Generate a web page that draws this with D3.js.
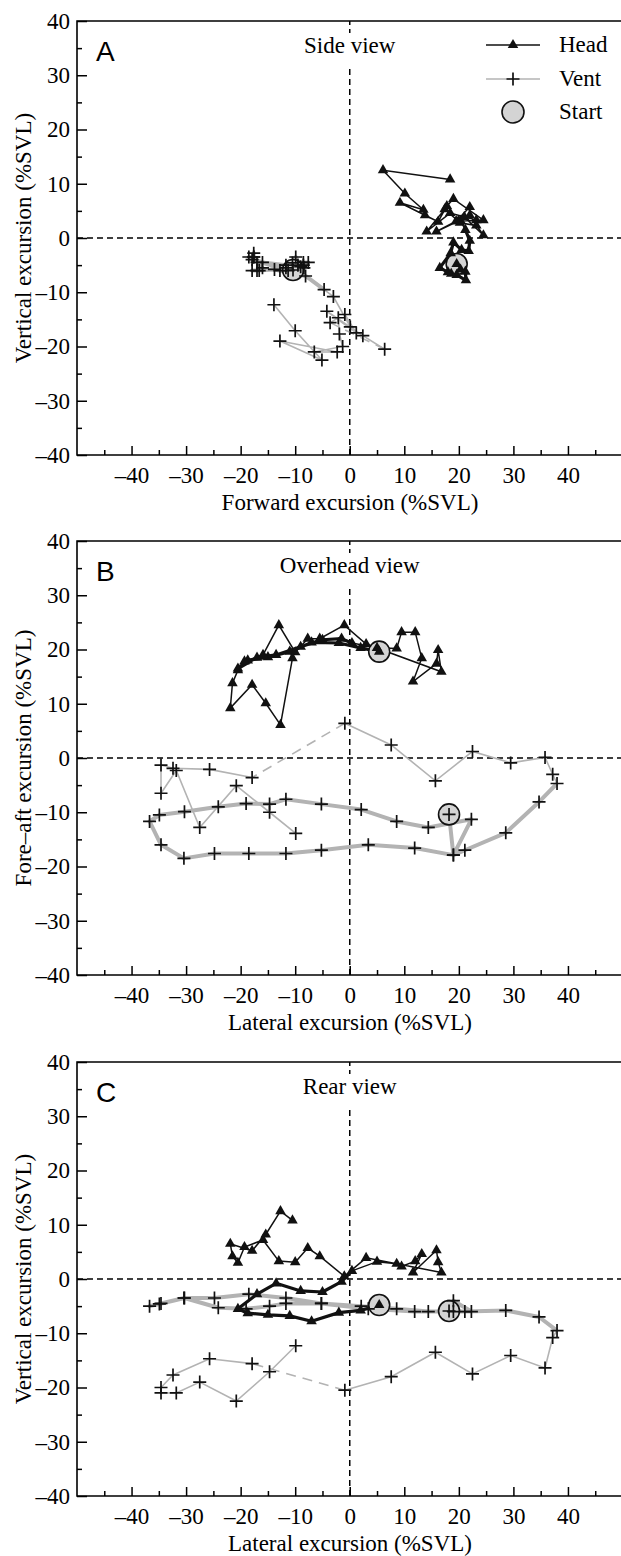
<!DOCTYPE html>
<html><head><meta charset="utf-8">
<script src="https://cdn.jsdelivr.net/npm/d3@7"></script>
<style>body{margin:0;background:#fff}</style>
</head><body><svg id="c" width="621" height="1556"></svg>
<script>
// ---------- data (3D trajectories, %SVL) ----------
// Head: lateral, fore-aft, vertical
const headLateral = [5.4,2,-2,-7,-11,-15,-18.7,-20.5,-17,-13.5,-9,-5,-1.5,0.4,
  5,8.6,9.5,12,13.2,11.6,15.9,16.2,16.8,3,-1,-5.5,-7.7,-10,-13,-15.9,-19.3,-20.5,-21.5,-21.9,-17.9,-15.4,-12.7,-10.5];
const headForeAft = [19.6,20.3,21.2,21.3,19.6,18.6,18,16.5,18.5,19,20.5,21.8,22,21.2,
  20.3,20.2,23.2,23.2,18.4,14.1,17.4,19.9,15.9,21,24.5,22,22,19.5,24.5,19,17.8,16.2,13.8,9.2,13.5,10.1,6.1,18.4];
const headVertical = [-4.8,-5.8,-6.2,-7.8,-6.8,-6.6,-6.3,-5.5,-2.8,-0.8,-2.2,-2.4,-0.5,1.5,
  3.2,2.8,2.3,3.3,4.6,1.2,5.3,3.1,1.2,3.9,0.5,4.2,5.7,3.1,3.3,7.2,5.9,3,4.2,6.5,5.2,8.2,12.5,10.8];
const headThickEnd = 13;           // points 0..13 drawn with the thick line

// Vent: lateral, fore-aft, vertical
const ventLateral = [18.2,19,22.3,14.4,8.6,2.1,-5.2,-11.7,-14.7,-19,-24.1,-30.3,-34.9,-36.7,-34.6,-30.4,-24.8,-18.5,-11.7,-5.2,3.4,11.9,19,21.1,28.6,34.7,38,
  37.2,35.8,29.5,22.5,15.7,7.6,-0.9,-17.9,-25.7,-32.4,-34.6,-34.6,-31.8,-27.5,-20.8,-14.7,-9.9];
const ventForeAft = [-10.4,-17.9,-11.3,-12.8,-11.7,-9.5,-8.5,-7.6,-8.5,-8.4,-9.0,-9.9,-10.5,-11.7,-16,-18.5,-17.6,-17.6,-17.6,-17,-16,-16.6,-17.9,-17,-13.8,-8.1,-4.7,
  -3,0.1,-0.9,1.2,-4.2,2.4,6.4,-3.6,-2.1,-1.9,-1.3,-6.5,-2.3,-12.8,-5.1,-10,-13.9];
const ventVertical = [-5.9,-4,-6,-6,-5.5,-5,-4.5,-4.5,-5,-5.5,-5.3,-3.5,-4.6,-5,-4.5,-3.5,-3.5,-2.8,-3.5,-4.5,-5.5,-6,-6,-6,-5.8,-7,-9.5,
  -10.8,-16.4,-14.1,-17.5,-13.5,-18,-20.5,-15.6,-14.7,-17.7,-20,-21,-21,-19,-22.5,-17.1,-12.3];
const ventThickEnd = 26;           // points 0..26 thick
const ventDashFrom = 33;           // segment 33 -> 34 dashed

const majorTicks = [-40,-30,-20,-10,0,10,20,30,40];
const minorTicks = [-45,-35,-25,-15,-5,5,15,25,35,45];
const yMajor = [-40,-30,-20,-10,0,10,20,30,40];
const yMinor = [-35,-25,-15,-5,5,15,25,35];
const legendLabels = ["Head","Vent","Start"];

const panels = [
  {letter:"A", title:"Side view", xlab:"Forward excursion (%SVL)", ylab:"Vertical excursion (%SVL)", xk:"fore", yk:"vert", top:21},
  {letter:"B", title:"Overhead view", xlab:"Lateral excursion (%SVL)", ylab:"Fore\u2013aft excursion (%SVL)", xk:"lat", yk:"fore", top:541},
  {letter:"C", title:"Rear view", xlab:"Lateral excursion (%SVL)", ylab:"Vertical excursion (%SVL)", xk:"lat", yk:"vert", top:1062}
];

const head = headLateral.map((d,i)=>({lat:d, fore:headForeAft[i], vert:headVertical[i]}));
const vent = ventLateral.map((d,i)=>({lat:d, fore:ventForeAft[i], vert:ventVertical[i]}));

const svg = d3.select("#c");
const serif = "'Liberation Serif','Times New Roman',serif";
const fmt = v => v < 0 ? "\u2013" + Math.abs(v) : String(v);
const H = 434;
const VENT = "#b3b3b3", INK = "#111";

panels.forEach(p => {
  const x = d3.scaleLinear().domain([-50,50]).range([77, 622.5]);
  const y = d3.scaleLinear().domain([-40,40]).range([p.top + H, p.top]);
  const g = svg.append("g");

  // zero lines
  g.append("line").attr("x1", x(-50)).attr("x2", x(50)).attr("y1", y(0)).attr("y2", y(0))
    .attr("stroke","#000").attr("stroke-width",1.5).attr("stroke-dasharray","6,4");
  g.append("line").attr("x1", x(0)).attr("x2", x(0)).attr("y1", y(-40)).attr("y2", y(40))
    .attr("stroke","#000").attr("stroke-width",1.5).attr("stroke-dasharray","6,4");

  // title with white backing (dashed axis line stops under it)
  const tg = g.append("g");
  const bgRect = tg.append("rect").attr("fill","#fff");
  const tt = tg.append("text").attr("x", x(0)).attr("y", p.top + 32).attr("text-anchor","middle")
    .attr("font-family", serif).attr("font-size", 23).text(p.title);
  const bb = tt.node().getBBox();
  bgRect.attr("x", bb.x - 2).attr("y", bb.y).attr("width", bb.width + 4).attr("height", bb.height + 8);

  // axes
  const xa = g.append("g").attr("transform",`translate(0,${y(-40)})`)
    .call(d3.axisBottom(x).tickValues(majorTicks).tickSizeInner(-9).tickSizeOuter(0).tickPadding(12).tickFormat(fmt));
  const xm = g.append("g").attr("transform",`translate(0,${y(-40)})`)
    .call(d3.axisBottom(x).tickValues(minorTicks).tickSizeInner(-5).tickSizeOuter(0).tickFormat(""));
  const ya = g.append("g").attr("transform",`translate(${x(-50)},0)`)
    .call(d3.axisLeft(y).tickValues(yMajor).tickSizeInner(-10).tickSizeOuter(0).tickPadding(7).tickFormat(fmt));
  const ym = g.append("g").attr("transform",`translate(${x(-50)},0)`)
    .call(d3.axisLeft(y).tickValues(yMinor).tickSizeInner(-5).tickSizeOuter(0).tickFormat(""));
  [xa,xm,ya,ym].forEach(a => {
    a.select(".domain").remove();
    a.selectAll(".tick line").attr("stroke","#000").attr("stroke-width",1.5);
    a.selectAll("text").attr("font-family", serif).attr("font-size", 23).attr("fill","#000");
  });
  // frame
  g.append("path").attr("d", `M${x(50)},${y(40)}H${x(-50)}V${y(-40)}H${x(50)}`)
    .attr("fill","none").attr("stroke","#000").attr("stroke-width",1.6);

  // labels
  g.append("text").attr("x", 350).attr("y", y(-40) + 55).attr("text-anchor","middle")
    .attr("font-family", serif).attr("font-size", 23).text(p.xlab);
  g.append("text").attr("transform", `translate(31,${y(0)}) rotate(-90)`).attr("text-anchor","middle")
    .attr("font-family", serif).attr("font-size", 23).text(p.ylab);
  g.append("text").attr("x", 96).attr("y", p.top + 40)
    .attr("font-family","'Liberation Sans',Arial,sans-serif").attr("font-size", 28).text(p.letter);

  // data
  const line = d3.line().x(d => x(d[p.xk])).y(d => y(d[p.yk]));
  const dg = g.append("g");
  dg.append("path").attr("d", line(vent.slice(0, ventThickEnd+1))).attr("fill","none")
    .attr("stroke",VENT).attr("stroke-width",4).attr("stroke-linejoin","round");
  dg.append("path").attr("d", line(vent.slice(ventThickEnd, ventDashFrom+1))).attr("fill","none")
    .attr("stroke",VENT).attr("stroke-width",1.6);
  dg.append("path").attr("d", line(vent.slice(ventDashFrom, ventDashFrom+2))).attr("fill","none")
    .attr("stroke",VENT).attr("stroke-width",1.6).attr("stroke-dasharray","10,7");
  dg.append("path").attr("d", line(vent.slice(ventDashFrom+1))).attr("fill","none")
    .attr("stroke",VENT).attr("stroke-width",1.6);
  dg.append("path").attr("d", line(head.slice(0, headThickEnd+1))).attr("fill","none")
    .attr("stroke",INK).attr("stroke-width",3.2).attr("stroke-linejoin","round");
  dg.append("path").attr("d", line(head.slice(headThickEnd))).attr("fill","none")
    .attr("stroke",INK).attr("stroke-width",1.5);
  [head[0], vent[0]].forEach(s => {
    dg.append("circle").attr("cx", x(s[p.xk])).attr("cy", y(s[p.yk])).attr("r", 10.5)
      .attr("fill","#d4d4d4").attr("stroke",INK).attr("stroke-width",1.6);
  });
  dg.selectAll(".vm").data(vent).enter().append("path")
    .attr("transform", d => `translate(${x(d[p.xk])},${y(d[p.yk])})`)
    .attr("d","M-6.5,0H6.5M0,-6.5V6.5").attr("stroke",INK).attr("stroke-width",1.7);
  const tri = d3.symbol().type(d3.symbolTriangle).size(48);
  dg.selectAll(".hm").data(head).enter().append("path")
    .attr("transform", d => `translate(${x(d[p.xk])},${y(d[p.yk])})`)
    .attr("d", tri()).attr("fill",INK);
});

// legend (panel A)
const lg = svg.append("g");
const lx1 = 486, lx2 = 540, lxm = 513, ltx = 559;
const rows = [45, 79, 112];
lg.append("line").attr("x1",lx1).attr("x2",lx2).attr("y1",rows[0]).attr("y2",rows[0]).attr("stroke",INK).attr("stroke-width",1.5);
lg.append("path").attr("transform",`translate(${lxm},${rows[0]})`).attr("d", d3.symbol().type(d3.symbolTriangle).size(48)()).attr("fill",INK);
lg.append("line").attr("x1",lx1).attr("x2",lx2).attr("y1",rows[1]).attr("y2",rows[1]).attr("stroke",VENT).attr("stroke-width",1.6);
lg.append("path").attr("transform",`translate(${lxm},${rows[1]})`).attr("d","M-6.5,0H6.5M0,-6.5V6.5").attr("stroke",INK).attr("stroke-width",1.7);
lg.append("circle").attr("cx",lxm).attr("cy",rows[2]).attr("r",11).attr("fill","#d4d4d4").attr("stroke",INK).attr("stroke-width",1.6);
legendLabels.forEach((t,i) => {
  lg.append("text").attr("x", ltx).attr("y", rows[i] + 7).attr("font-family", serif).attr("font-size", 23).text(t);
});
</script></body></html>
